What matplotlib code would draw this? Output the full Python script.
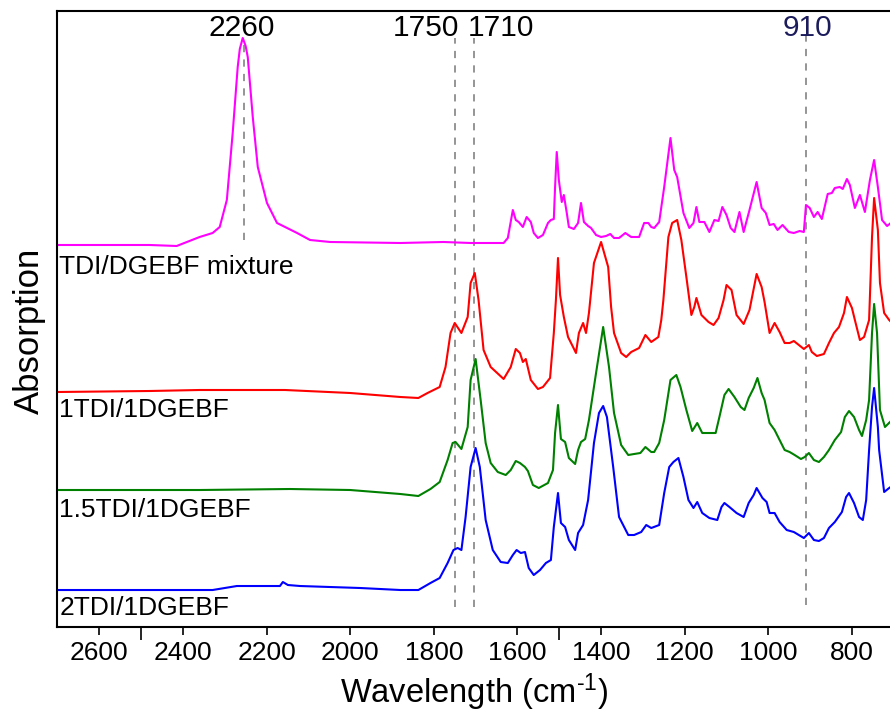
import matplotlib
matplotlib.use('Agg')
import matplotlib.pyplot as plt

plt.rcParams['font.family'] = ['Liberation Sans', 'DejaVu Sans']
plt.rcParams['mathtext.default'] = 'regular'

# FTIR spectra (wavenumber in cm-1, stacked absorption in a.u.)
mix_wn = [2701, 2600, 2480, 2415, 2360, 2329, 2312, 2295, 2281, 2269, 2264, 2257, 2250,
          2245, 2233, 2221, 2199, 2175, 2151, 2127, 2096, 2048, 1880, 1777, 1712, 1633,
          1623, 1611, 1604, 1597, 1587, 1578, 1568, 1561, 1551, 1539, 1527, 1520, 1513,
          1510, 1506, 1501, 1494, 1489, 1482, 1477, 1465, 1455, 1448, 1441, 1431, 1424,
          1412, 1400, 1388, 1378, 1369, 1357, 1342, 1328, 1309, 1297, 1287, 1280, 1273,
          1261, 1249, 1234, 1225, 1218, 1203, 1189, 1179, 1172, 1165, 1153, 1141, 1129,
          1119, 1110, 1100, 1090, 1081, 1069, 1059, 1045, 1028, 1016, 1006, 997, 987, 978,
          966, 951, 939, 925, 915, 910, 901, 891, 882, 872, 858, 848, 841, 829, 822, 812,
          805, 793, 781, 769, 757, 747, 738, 728, 716, 704]
mix_abs = [382, 382, 382, 381, 390, 394, 400, 427, 494, 560, 578, 589, 581,
           570, 510, 460, 424, 404, 399, 394, 387, 385, 384, 385, 384, 384,
           389, 417, 407, 405, 400, 410, 405, 394, 389, 392, 404, 407, 408,
           440, 475, 447, 425, 432, 414, 400, 398, 404, 424, 405, 401, 399,
           392, 390, 391, 393, 389, 389, 394, 390, 390, 404, 404, 400, 399,
           405, 440, 489, 457, 450, 414, 399, 404, 420, 405, 405, 395, 407,
           406, 420, 412, 399, 395, 415, 395, 417, 445, 419, 414, 402, 403, 397,
           402, 395, 394, 396, 395, 422, 419, 410, 415, 408, 433, 434, 439, 440, 438, 448,
           442, 419, 432, 415, 447, 467, 440, 407, 401, 405]

r1_wn = [2701, 2480, 2360, 2156, 2000, 1880, 1837, 1815, 1786, 1772, 1760, 1750, 1734,
         1719, 1712, 1702, 1698, 1693, 1681, 1664, 1633, 1616, 1604, 1594, 1587, 1580,
         1568, 1551, 1539, 1522, 1513, 1508, 1503, 1498, 1489, 1479, 1467, 1460, 1453,
         1443, 1436, 1429, 1417, 1400, 1383, 1376, 1369, 1352, 1340, 1328, 1309, 1294,
         1280, 1263, 1256, 1251, 1239, 1230, 1218, 1208, 1196, 1184, 1177, 1172, 1160,
         1143, 1131, 1119, 1107, 1100, 1088, 1076, 1059, 1045, 1028, 1016, 1009, 1002,
         997, 985, 973, 961, 949, 939, 927, 915, 903, 896, 884, 867, 855, 843, 831, 819,
         812, 800, 793, 781, 771, 759, 752, 747, 738, 733, 723, 711, 704]
r1_abs = [235, 236, 237, 237, 234, 230, 229, 234, 240, 260, 294, 304, 294,
          310, 344, 354, 342, 327, 277, 260, 248, 260, 278, 274, 265, 268,
          247, 238, 240, 249, 294, 327, 369, 332, 310, 290, 280, 274, 294,
          304, 294, 314, 364, 385, 360, 320, 294, 274, 270, 275, 279, 292,
          285, 290, 307, 327, 390, 404, 407, 387, 350, 312, 320, 329, 312,
          305, 302, 309, 327, 342, 337, 312, 303, 317, 353, 340, 325, 307,
          294, 304, 295, 284, 284, 286, 282, 278, 282, 275, 271, 273, 284, 294, 300, 314,
          330, 319, 307, 287, 290, 307, 390, 429, 397, 344, 314, 307, 304]

r15_wn = [2701, 2360, 2144, 2000, 1880, 1837, 1808, 1786, 1767, 1755, 1748, 1734, 1719,
          1712, 1700, 1688, 1676, 1664, 1647, 1628, 1616, 1604, 1594, 1582, 1575, 1563,
          1549, 1527, 1515, 1510, 1503, 1496, 1486, 1477, 1462, 1455, 1448, 1438, 1429,
          1412, 1395, 1381, 1369, 1352, 1335, 1321, 1306, 1294, 1280, 1273, 1261, 1249,
          1234, 1220, 1210, 1196, 1182, 1170, 1158, 1143, 1126, 1117, 1105, 1095, 1081,
          1066, 1057, 1047, 1035, 1026, 1016, 1009, 997, 985, 973, 961, 949, 937, 922,
          913, 903, 891, 879, 867, 855, 841, 826, 817, 807, 795, 783, 776, 766, 759, 752,
          747, 740, 733, 721, 709, 704]
r15_abs = [137, 137, 138, 137, 133, 131, 138, 145, 167, 184, 185, 178, 200,
           247, 268, 227, 184, 164, 155, 152, 157, 166, 164, 160, 156, 142,
           139, 144, 157, 194, 222, 188, 185, 169, 163, 177, 185, 188, 207,
           254, 300, 260, 214, 182, 172, 173, 174, 180, 175, 175, 184, 207,
           247, 252, 240, 217, 196, 204, 194, 194, 194, 210, 232, 238, 230,
           220, 217, 229, 239, 249, 234, 227, 204, 197, 187, 177, 175, 172, 168,
           170, 174, 167, 165, 170, 177, 187, 195, 210, 216, 210, 197, 191, 207, 227, 294,
           323, 294, 217, 200, 205, 207]

r2_wn = [2701, 2480, 2329, 2271, 2192, 2168, 2161, 2149, 2120, 1976, 1880, 1837, 1808,
         1786, 1767, 1753, 1743, 1734, 1724, 1712, 1700, 1690, 1676, 1659, 1640, 1623,
         1611, 1602, 1592, 1582, 1573, 1561, 1546, 1532, 1520, 1513, 1503, 1496, 1486,
         1477, 1462, 1455, 1443, 1431, 1417, 1405, 1395, 1386, 1371, 1357, 1335, 1321,
         1304, 1292, 1280, 1261, 1249, 1237, 1227, 1215, 1203, 1191, 1179, 1170, 1158,
         1141, 1122, 1112, 1105, 1093, 1076, 1059, 1047, 1035, 1028, 1014, 1004, 997,
         985, 973, 956, 939, 927, 915, 903, 891, 879, 867, 855, 841, 824, 814, 807, 795,
         783, 774, 766, 759, 752, 747, 738, 735, 723, 711, 704]
r2_abs = [37, 37, 37, 41, 41, 41, 45, 42, 41, 39, 37, 37, 44,
          49, 64, 77, 79, 77, 110, 160, 179, 160, 107, 77, 65, 64,
          72, 77, 74, 75, 59, 52, 57, 64, 67, 100, 134, 104, 100,
          87, 77, 94, 102, 127, 184, 214, 221, 210, 160, 110, 92, 92,
          95, 102, 99, 102, 134, 160, 165, 169, 150, 127, 119, 125, 114,
          109, 107, 120, 124, 120, 114, 110, 124, 132, 139, 129, 125, 114,
          114, 105, 97, 95, 92, 89, 94, 87, 86, 89, 99, 105, 115, 130, 134, 124,
          110, 107, 127, 177, 220, 239, 200, 177, 135, 139, 141]

series = [(mix_wn, mix_abs, '#FF00FF'),
          (r1_wn, r1_abs, '#FF0000'),
          (r15_wn, r15_abs, '#008000'),
          (r2_wn, r2_abs, '#0000FF')]

sample_names = ['TDI/DGEBF mixture', '1TDI/1DGEBF', '1.5TDI/1DGEBF', '2TDI/1DGEBF']
name_y = [353, 210, 110, 12]

# marked bands: label, line position, label x, line bottom, line top, colour
band_labels = ['2260', '1750', '1710', '910']
band_pos = [2255, 1750, 1704, 910]
band_text_x = [2260, 1820, 1640, 906]
band_ymin = [387, 20, 20, 22]
band_ymax = [585, 589, 589, 593]
band_colors = ['black', 'black', 'black', '#1c1c5c']

fig = plt.figure(figsize=(8.9, 7.13), dpi=100)
ax = fig.add_axes([0.0646, 0.1206, 0.9354, 0.864])

for wn, ab, c in series:
    ax.plot(wn, ab, color=c, lw=1.5, solid_joinstyle='round')

for lab, pos, tx, y0, y1, c in zip(band_labels, band_pos, band_text_x,
                                   band_ymin, band_ymax, band_colors):
    ax.plot([pos, pos], [y0, y1], color='#8c8c8c', lw=1.3,
            linestyle=(0, (4, 4)), zorder=1)
    ax.text(tx, 591, lab, ha='center', va='baseline', fontsize=21.5, color=c)

for name, y in zip(sample_names, name_y):
    ax.text(2696, y, name, ha='left', va='baseline', fontsize=19)

ax.set_xlim(2700, 709)
ax.set_ylim(0, 616)
ax.set_xticks(range(2600, 700, -200))
ax.set_xticks([2500, 1500], minor=True)
ax.set_yticks([])
ax.tick_params(axis='x', which='major', direction='out', length=6, width=1.2,
               labelsize=19, pad=4)
ax.tick_params(axis='x', which='minor', direction='out', length=9.5, width=1.2)
ax.spines['right'].set_visible(False)
for s in ['left', 'top', 'bottom']:
    ax.spines[s].set_linewidth(1.5)

ax.set_xlabel('Wavelength (cm$^{\u2010 1}$)', fontsize=23.5, labelpad=5)
ax.set_ylabel('Absorption', fontsize=25)
ax.yaxis.set_label_coords(-0.014, 0.48)

fig.savefig('out.png', dpi=100)
